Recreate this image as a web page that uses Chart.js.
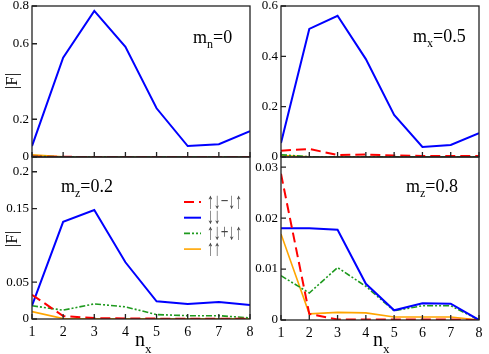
<!DOCTYPE html>
<html>
<head>
<meta charset="utf-8">
<script src="https://cdn.jsdelivr.net/npm/chart.js@4.4.0/dist/chart.umd.min.js"></script>
<style>
html,body{margin:0;padding:0;background:#fff;}
#wrap{position:relative;width:489px;height:354px;}
#wrap canvas{position:absolute;left:0;top:0;}
</style>
</head>
<body>
<div id="wrap">
<canvas id="tl" width="489" height="354"></canvas>
<canvas id="tr" width="489" height="354"></canvas>
<canvas id="bl" width="489" height="354"></canvas>
<canvas id="br" width="489" height="354"></canvas>
</div>
<script>
// ===== data =====
const nx = [1, 2, 3, 4, 5, 6, 7, 8];
const seriesNames = ["↑↓−↓↑", "↓↓", "↑↓+↓↑", "↑↑"];

// m_n = 0
const mn0Red    = [0.002, 0.001, 0, 0, 0, 0, 0, 0];
const mn0Blue   = [0.058, 0.526, 0.774, 0.584, 0.258, 0.058, 0.068, 0.137];
const mn0Green  = [0.004, 0.001, 0, 0, 0, 0, 0, 0];
const mn0Orange = [0.012, 0.001, 0, 0, 0, 0, 0, 0];

// m_x = 0.5
const mx05Red    = [0.025, 0.032, 0.008, 0.010, 0.006, 0.004, 0.004, 0.004];
const mx05Blue   = [0.056, 0.509, 0.561, 0.389, 0.167, 0.040, 0.048, 0.095];
const mx05Green  = [0.009, 0.001, 0.001, 0.001, 0.001, 0.001, 0.001, 0.001];
const mx05Orange = [0.006, 0.001, 0, 0, 0, 0, 0, 0];

// m_z = 0.2
const mz02Red    = [0.033, 0.004, 0.0012, 0.0008, 0.0005, 0.0005, 0.0005, 0.0003];
const mz02Blue   = [0.018, 0.132, 0.148, 0.077, 0.024, 0.0205, 0.023, 0.019];
const mz02Green  = [0.018, 0.012, 0.0205, 0.0165, 0.006, 0.0045, 0.0045, 0.0015];
const mz02Orange = [0.010, 0.0005, 0.0003, 0.0003, 0.0002, 0.0002, 0.0002, 0.0002];

// m_z = 0.8
const mz08Red    = [0.0287, 0.0012, 0.0001, 0.0001, 0.0001, 0.0001, 0.0001, 0];
const mz08Blue   = [0.018, 0.018, 0.0177, 0.0071, 0.0019, 0.0033, 0.0032, 0];
const mz08Green  = [0.0087, 0.0053, 0.0103, 0.0066, 0.0018, 0.0028, 0.0028, 0];
const mz08Orange = [0.0169, 0.0012, 0.0015, 0.0014, 0.0006, 0.0006, 0.0006, 0];

// tick labels
const yTicksTL = [0, 0.2, 0.6, 0.8];
const yTicksTR = [0, 0.2, 0.4, 0.6];
const yTicksBL = [0, 0.05, 0.15, 0.2];
const yTicksBR = [0, 0.01, 0.02, 0.03];

// ===== styles =====
const SERIF = "'Liberation Serif', 'Times New Roman', serif";
Chart.defaults.font.family = SERIF;
Chart.defaults.font.size = 13;
Chart.defaults.color = "#000";

const lineStyles = [
    {color: "#ff0000", dash: [10, 5], width: 2},
    {color: "#0000ff", dash: [], width: 2},
    {color: "#1e9a1e", dash: [6, 2, 2, 2, 2, 2], width: 1.6},
    {color: "#ffa500", dash: [], width: 1.6}
];

function makeDatasets(list){
    return list.map((vals, i) => ({
        label: seriesNames[i],
        data: vals.map((v, k) => ({x: nx[k], y: v})),
        borderColor: lineStyles[i].color,
        borderDash: lineStyles[i].dash,
        borderWidth: lineStyles[i].width,
        pointRadius: 0,
        tension: 0,
        fill: false
    }));
}

function drawSub(ctx, x, y, main, sub, rest, big, small, drop){
    ctx.font = big + "px " + SERIF;
    ctx.fillText(main, x, y);
    let w = ctx.measureText(main).width;
    ctx.font = small + "px " + SERIF;
    ctx.fillText(sub, x + w, y + drop);
    w += ctx.measureText(sub).width;
    if(rest){
        ctx.font = big + "px " + SERIF;
        ctx.fillText(rest, x + w, y);
    }
}

// ===== frame, inward ticks, labels =====
const panelPlugin = {
    id: "panel",
    afterDraw(chart, args, o){
        const ctx = chart.ctx, a = chart.chartArea;
        const xs = chart.scales.x, ys = chart.scales.y;
        ctx.save();
        ctx.strokeStyle = "#222";
        ctx.lineWidth = 1.3;
        ctx.setLineDash([]);
        ctx.beginPath();
        nx.forEach(n => {
            const px = xs.getPixelForValue(n);
            ctx.moveTo(px, a.bottom); ctx.lineTo(px, a.bottom - 5);
        });
        ys.ticks.forEach(t => {
            const py = ys.getPixelForValue(t.value);
            ctx.moveTo(a.left, py); ctx.lineTo(a.left + 5, py);
        });
        ctx.stroke();
        ctx.strokeRect(a.left, a.top, a.right - a.left, a.bottom - a.top);

        ctx.fillStyle = "#000";
        ctx.textBaseline = "alphabetic";
        ctx.textAlign = "left";
        const t = o.tag;
        drawSub(ctx, t.x, t.y, "m", t.sub, t.rest, 18, 12, 5);

        if(o.yTitle){
            ctx.save();
            ctx.translate(o.yTitle.x, o.yTitle.y);
            ctx.rotate(-Math.PI / 2);
            ctx.textAlign = "center";
            ctx.textBaseline = "middle";
            ctx.font = "17px " + SERIF;
            ctx.fillText("|F|", 0, 0);
            ctx.restore();
        }
        if(o.xTitle){
            ctx.textAlign = "left";
            drawSub(ctx, o.xTitle.x, o.xTitle.y, "n", "x", "", 20, 13, 7);
        }
        if(o.legend){
            const L = o.legend;
            chart.data.datasets.forEach((ds, i) => {
                const y = L.y + i * L.gap;
                ctx.strokeStyle = ds.borderColor;
                ctx.lineWidth = ds.borderWidth;
                ctx.setLineDash(ds.borderDash);
                ctx.beginPath();
                ctx.moveTo(L.x, y); ctx.lineTo(L.x + 17, y);
                ctx.stroke();
                ctx.setLineDash([]);
                // tall, narrow arrows like the original
                ctx.save();
                ctx.translate(L.x + 23, y);
                ctx.scale(0.62, 1);
                ctx.fillStyle = "#444";
                ctx.font = "22px " + SERIF;
                ctx.textBaseline = "middle";
                ctx.fillText(ds.label, 0, 0);
                ctx.restore();
            });
        }
        ctx.restore();
    }
};

// ===== panel builder =====
function makePanel(id, p){
    const yw = 30, xh = p.showX ? 35 : 0;
    return new Chart(document.getElementById(id), {
        type: "line",
        data: {datasets: makeDatasets(p.series)},
        options: {
            responsive: false,
            animation: false,
            events: [],
            layout: {padding: {
                left: p.area.left - yw,
                right: 489 - p.area.right,
                top: p.area.top,
                bottom: 354 - p.area.bottom - xh
            }},
            plugins: {
                legend: {display: false},
                tooltip: {enabled: false},
                panel: {tag: p.tag, yTitle: p.yTitle, xTitle: p.xTitle, legend: p.legend}
            },
            scales: {
                x: {
                    type: "linear", min: 1, max: 8,
                    grid: {display: false, drawTicks: false},
                    border: {display: false},
                    ticks: {display: p.showX, stepSize: 1, padding: 5, font: {size: 14}},
                    afterFit: s => { s.height = xh; s.paddingLeft = 0; s.paddingRight = 0; }
                },
                y: {
                    min: 0, max: p.yMax,
                    grid: {display: false, drawTicks: false},
                    border: {display: false},
                    afterBuildTicks: s => { s.ticks = p.yTicks.map(v => ({value: v})); },
                    ticks: {padding: 3, callback: v => String(v)},
                    afterFit: s => { s.width = yw; s.paddingTop = 0; s.paddingBottom = 0; }
                }
            }
        },
        plugins: [panelPlugin]
    });
}

makePanel("tl", {
    area: {left: 32, right: 250, top: 6, bottom: 157},
    yMax: 0.8, yTicks: yTicksTL, showX: false,
    series: [mn0Red, mn0Blue, mn0Green, mn0Orange],
    tag: {x: 193, y: 43, sub: "n", rest: "=0"},
    yTitle: {x: 13, y: 81}
});

makePanel("tr", {
    area: {left: 281, right: 479, top: 6, bottom: 157},
    yMax: 0.6, yTicks: yTicksTR, showX: false,
    series: [mx05Red, mx05Blue, mx05Green, mx05Orange],
    tag: {x: 413, y: 42, sub: "x", rest: "=0.5"}
});

makePanel("bl", {
    area: {left: 32, right: 250, top: 157, bottom: 319},
    yMax: 0.22, yTicks: yTicksBL, showX: true,
    series: [mz02Red, mz02Blue, mz02Green, mz02Orange],
    tag: {x: 61, y: 192, sub: "z", rest: "=0.2"},
    yTitle: {x: 13, y: 239},
    xTitle: {x: 135, y: 346},
    legend: {x: 184, y: 202, gap: 15.7}
});

makePanel("br", {
    area: {left: 281, right: 479, top: 157, bottom: 320},
    yMax: 0.032, yTicks: yTicksBR, showX: true,
    series: [mz08Red, mz08Blue, mz08Green, mz08Orange],
    tag: {x: 406, y: 192, sub: "z", rest: "=0.8"},
    xTitle: {x: 373, y: 346}
});
</script>
</body>
</html>
